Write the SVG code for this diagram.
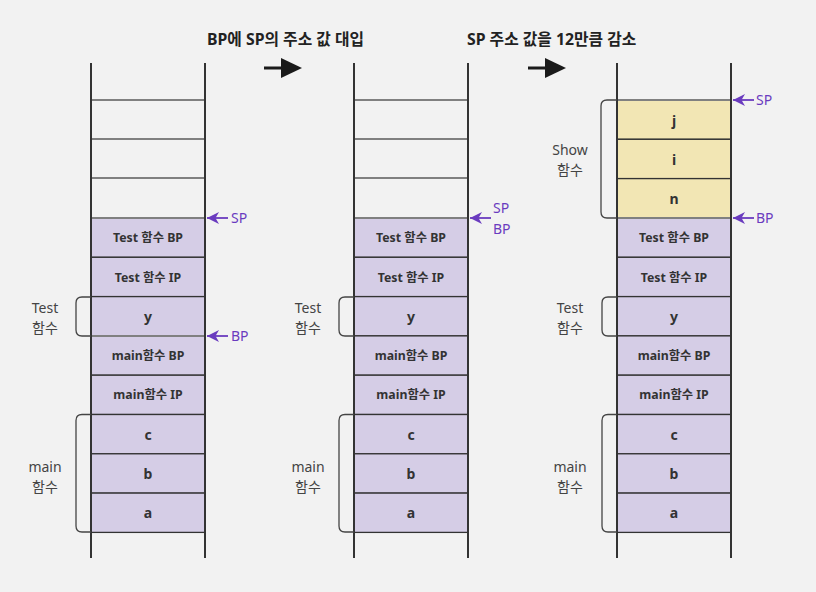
<svg xmlns="http://www.w3.org/2000/svg" width="816" height="592" viewBox="0 0 816 592">
<defs>
<style>
.cell{fill:#d5cde6;stroke:#333;stroke-width:1.3}
.cellY{fill:#f2e6b4;stroke:#333;stroke-width:1.3}
.empty{stroke:#808080;stroke-width:2}
.wall{stroke:#333;stroke-width:2}
.ct{font-family:"Noto Sans","Noto Sans CJK KR",sans-serif;font-size:12.3px;font-weight:bold;fill:#333;text-anchor:middle}
.cl{font-family:"Noto Sans","Noto Sans CJK KR",sans-serif;font-size:14px;font-weight:bold;fill:#333;text-anchor:middle}
.lbl{font-family:"Noto Sans","Noto Sans CJK KR",sans-serif;font-size:14px;fill:#444;text-anchor:middle}
.ptr{font-family:"Noto Sans","Noto Sans CJK KR",sans-serif;font-size:14px;fill:#6a3bbf}
.title{font-family:"Noto Sans","Noto Sans CJK KR",sans-serif;font-size:15.8px;font-weight:bold;fill:#222}
.br{fill:none;stroke:#444;stroke-width:1.3}
.pl{stroke:#6a3bbf;stroke-width:1.8}
</style>
<marker id="ph" markerWidth="14" markerHeight="14" refX="12" refY="6" orient="auto" markerUnits="userSpaceOnUse">
<path d="M0,0 L12,6 L0,12 L3.5,6 Z" fill="#6a3bbf"/>
</marker>
</defs>
<rect width="816" height="592" fill="#f2f2f2"/>

<text class="title" x="207" y="45">BP에 SP의 주소 값 대입</text>
<text class="title" x="467" y="45">SP 주소 값을 12만큼 감소</text>

<g id="bigarrow1"><line x1="264" y1="68" x2="284" y2="68" stroke="#1a1a1a" stroke-width="3"/><path d="M281,58 L302,68 L281,78 Z" fill="#1a1a1a"/></g>
<g id="bigarrow2"><line x1="528" y1="68" x2="548" y2="68" stroke="#1a1a1a" stroke-width="3"/><path d="M545,58 L566,68 L545,78 Z" fill="#1a1a1a"/></g>

<!-- Column 1 -->
<g id="stack1">
<line class="empty" x1="91" y1="100" x2="205" y2="100"/>
<line class="empty" x1="91" y1="139" x2="205" y2="139"/>
<line class="empty" x1="91" y1="178" x2="205" y2="178"/>
<rect class="cell" x="91" y="218" width="114" height="39.3"/>
<rect class="cell" x="91" y="257.3" width="114" height="39.3"/>
<rect class="cell" x="91" y="296.6" width="114" height="39.3"/>
<rect class="cell" x="91" y="335.9" width="114" height="39.3"/>
<rect class="cell" x="91" y="375.2" width="114" height="39.3"/>
<rect class="cell" x="91" y="414.5" width="114" height="39.3"/>
<rect class="cell" x="91" y="453.8" width="114" height="39.3"/>
<rect class="cell" x="91" y="493.1" width="114" height="39.3"/>
<line class="empty" x1="91" y1="218" x2="205" y2="218"/>
<line class="empty" x1="91" y1="336" x2="205" y2="336"/>
<line class="wall" x1="91" y1="63" x2="91" y2="558"/>
<line class="wall" x1="205" y1="63" x2="205" y2="558"/>
<text class="ct" x="148" y="242">Test 함수 BP</text>
<text class="ct" x="148" y="282">Test 함수 IP</text>
<text class="cl" x="148" y="322">y</text>
<text class="ct" x="148" y="360">main함수 BP</text>
<text class="ct" x="148" y="399">main함수 IP</text>
<text class="cl" x="148" y="440">c</text>
<text class="cl" x="148" y="479">b</text>
<text class="cl" x="148" y="518">a</text>
</g>

<!-- Column 2 -->
<g id="stack2">
<line class="empty" x1="354" y1="100" x2="468" y2="100"/>
<line class="empty" x1="354" y1="139" x2="468" y2="139"/>
<line class="empty" x1="354" y1="178" x2="468" y2="178"/>
<rect class="cell" x="354" y="218" width="114" height="39.3"/>
<rect class="cell" x="354" y="257.3" width="114" height="39.3"/>
<rect class="cell" x="354" y="296.6" width="114" height="39.3"/>
<rect class="cell" x="354" y="335.9" width="114" height="39.3"/>
<rect class="cell" x="354" y="375.2" width="114" height="39.3"/>
<rect class="cell" x="354" y="414.5" width="114" height="39.3"/>
<rect class="cell" x="354" y="453.8" width="114" height="39.3"/>
<rect class="cell" x="354" y="493.1" width="114" height="39.3"/>
<line class="empty" x1="354" y1="218" x2="468" y2="218"/>
<line class="wall" x1="354" y1="63" x2="354" y2="558"/>
<line class="wall" x1="468" y1="63" x2="468" y2="558"/>
<text class="ct" x="411" y="242">Test 함수 BP</text>
<text class="ct" x="411" y="282">Test 함수 IP</text>
<text class="cl" x="411" y="322">y</text>
<text class="ct" x="411" y="360">main함수 BP</text>
<text class="ct" x="411" y="399">main함수 IP</text>
<text class="cl" x="411" y="440">c</text>
<text class="cl" x="411" y="479">b</text>
<text class="cl" x="411" y="518">a</text>
</g>

<!-- Column 3 -->
<g id="stack3">
<rect class="cellY" x="617" y="100" width="114" height="39.3"/>
<rect class="cellY" x="617" y="139.3" width="114" height="39.3"/>
<rect class="cellY" x="617" y="178.6" width="114" height="39.4"/>
<rect class="cell" x="617" y="218" width="114" height="39.3"/>
<rect class="cell" x="617" y="257.3" width="114" height="39.3"/>
<rect class="cell" x="617" y="296.6" width="114" height="39.3"/>
<rect class="cell" x="617" y="335.9" width="114" height="39.3"/>
<rect class="cell" x="617" y="375.2" width="114" height="39.3"/>
<rect class="cell" x="617" y="414.5" width="114" height="39.3"/>
<rect class="cell" x="617" y="453.8" width="114" height="39.3"/>
<rect class="cell" x="617" y="493.1" width="114" height="39.3"/>
<line class="empty" x1="617" y1="100" x2="731" y2="100"/>
<line class="empty" x1="617" y1="218" x2="731" y2="218"/>
<line class="wall" x1="617" y1="63" x2="617" y2="558"/>
<line class="wall" x1="731" y1="63" x2="731" y2="558"/>
<text class="cl" x="674" y="126">j</text>
<text class="cl" x="674" y="165">i</text>
<text class="cl" x="674" y="204">n</text>
<text class="ct" x="674" y="242">Test 함수 BP</text>
<text class="ct" x="674" y="282">Test 함수 IP</text>
<text class="cl" x="674" y="322">y</text>
<text class="ct" x="674" y="360">main함수 BP</text>
<text class="ct" x="674" y="399">main함수 IP</text>
<text class="cl" x="674" y="440">c</text>
<text class="cl" x="674" y="479">b</text>
<text class="cl" x="674" y="518">a</text>
</g>

<!-- Brackets and labels -->
<g id="brackets">
<path class="br" d="M91,297 H82 Q76,297 76,303 V330 Q76,336 82,336 H91"/>
<path class="br" d="M91,414.5 H82 Q76,414.5 76,420.5 V526 Q76,532 82,532 H91"/>
<path class="br" d="M354,297 H345 Q339,297 339,303 V330 Q339,336 345,336 H354"/>
<path class="br" d="M354,414.5 H345 Q339,414.5 339,420.5 V526 Q339,532 345,532 H354"/>
<path class="br" d="M617,100 H607 Q601,100 601,106 V212 Q601,218 607,218 H617"/>
<path class="br" d="M617,297 H608 Q602,297 602,303 V330 Q602,336 608,336 H617"/>
<path class="br" d="M617,414.5 H608 Q602,414.5 602,420.5 V526 Q602,532 608,532 H617"/>
</g>
<g id="labels">
<text class="lbl" x="45" y="313">Test</text>
<text class="lbl" x="45" y="333">함수</text>
<text class="lbl" x="45" y="472">main</text>
<text class="lbl" x="45" y="492">함수</text>
<text class="lbl" x="308" y="313">Test</text>
<text class="lbl" x="308" y="333">함수</text>
<text class="lbl" x="308" y="472">main</text>
<text class="lbl" x="308" y="492">함수</text>
<text class="lbl" x="570" y="155">Show</text>
<text class="lbl" x="570" y="175">함수</text>
<text class="lbl" x="570" y="313">Test</text>
<text class="lbl" x="570" y="333">함수</text>
<text class="lbl" x="570" y="472">main</text>
<text class="lbl" x="570" y="492">함수</text>
</g>

<!-- Pointer connectors -->
<g id="connectors">
<line class="pl" x1="228" y1="218" x2="207" y2="218" marker-end="url(#ph)"/>
<line class="pl" x1="228" y1="336" x2="207" y2="336" marker-end="url(#ph)"/>
<line class="pl" x1="491" y1="218" x2="470" y2="218" marker-end="url(#ph)"/>
<line class="pl" x1="754" y1="100" x2="733" y2="100" marker-end="url(#ph)"/>
<line class="pl" x1="754" y1="218" x2="733" y2="218" marker-end="url(#ph)"/>
</g>
<g id="pointer-labels">
<text class="ptr" x="231" y="223">SP</text>
<text class="ptr" x="231" y="341">BP</text>
<text class="ptr" x="493" y="213">SP</text>
<text class="ptr" x="493" y="234">BP</text>
<text class="ptr" x="756" y="105">SP</text>
<text class="ptr" x="756" y="223">BP</text>
</g>
</svg>
